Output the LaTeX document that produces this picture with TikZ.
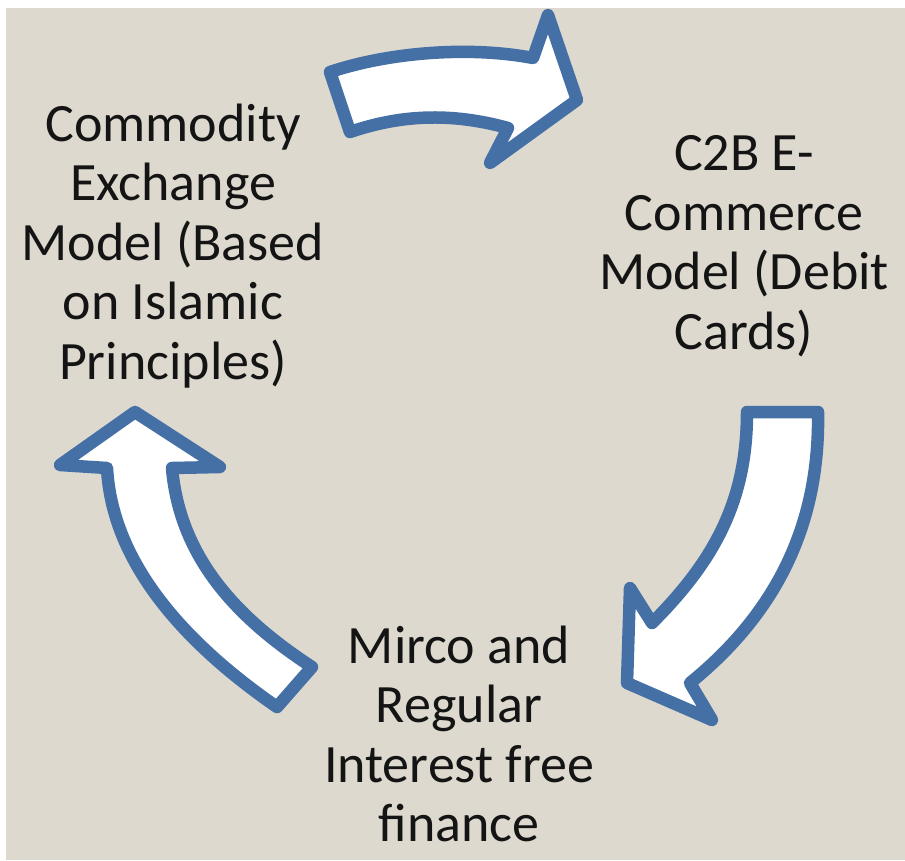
\documentclass[tikz,border=0pt]{standalone}
\usepackage{fontspec}
\setmainfont{Carlito}
\usetikzlibrary{shadows}

\definecolor{paper}{RGB}{221,217,207}
\definecolor{arrowblue}{RGB}{68,112,166}
\definecolor{ink}{RGB}{20,20,20}

\begin{document}
\begin{tikzpicture}[
  x=1pt, y=-1pt,
  cyclearrow/.style={draw=arrowblue, fill=white, line width=12.5pt, line join=round,
    drop shadow={opacity=0.25, shadow xshift=2pt, shadow yshift=-3pt}},
  label/.style={align=center, inner sep=0pt, text=ink,
    font=\fontsize{54}{59.5}\selectfont}
]

% Frame and background
\useasboundingbox (0,0) rectangle (905,860);
\fill[white] (0,0) rectangle (905,860);
\fill[paper] (6,8) rectangle (905,860);

% Text blocks
\node[label] (islamic) at (173,246) {Commodity\\Exchange\\Model (Based\\on Islamic\\Principles)};
\node[label] (ecommerce) at (744,246) {C2B E-\\Commerce\\Model (Debit\\Cards)};
\node[label] (finance) at (459,734) {Mirco and\\Regular\\Interest free\\finance};

% Top arrow
\draw[cyclearrow] (330,72) .. controls (390,52) and (470,46) .. (533,58)
  -- (548,15) -- (577,100) -- (490,163) -- (508,128)
  .. controls (450,112) and (400,115) .. (350,132) -- cycle;

% Right arrow
\draw[cyclearrow] (747,412) -- (818,412)
  .. controls (820,520) and (780,610) .. (690,683)
  -- (712,720) -- (627,683) -- (630,588) -- (652,623)
  .. controls (715,560) and (747,500) .. (747,412) -- cycle;

% Left arrow
\draw[cyclearrow] (312,667) -- (277,707)
  .. controls (180,640) and (112,560) .. (107,468)
  -- (60,465) -- (135,412) -- (220,467) -- (172,468)
  .. controls (180,560) and (240,620) .. (312,667) -- cycle;

\end{tikzpicture}
\end{document}
